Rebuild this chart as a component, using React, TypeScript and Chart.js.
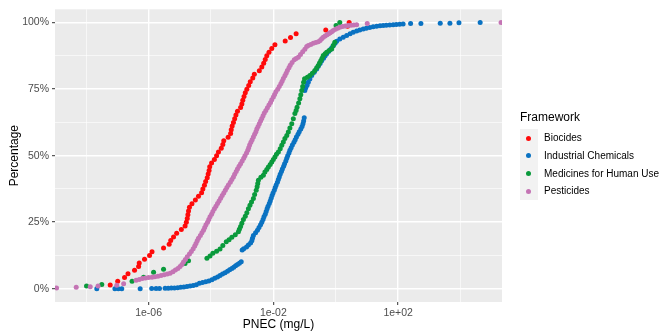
import React, { useEffect, useRef } from 'react';
import { Chart, registerables } from 'chart.js';

Chart.register(...registerables);

// ---- data (x = log10 PNEC in mg/L, y = cumulative percentage) ----
const seriesNames = ['Biocides', 'Industrial Chemicals', 'Medicines for Human Use', 'Pesticides'];
const seriesColors = ['#FF0A0A', '#0A72C2', '#0A9A3C', '#C474B4'];
const legendTitle = 'Framework';
const xTitle = 'PNEC (mg/L)';
const yTitle = 'Percentage';
const xTickValues = [-8, -6, -4, -2, 0, 2, 4];
const xLabelledTicks = [-6, -2, 2];
const yTickValues = [0, 12.5, 25, 37.5, 50, 62.5, 75, 87.5, 100];
const yLabelledTicks = [0, 25, 50, 75, 100];

const biocides: [number, number][] = [
  [-7.23, 1.4], [-6.99, 2.8], [-6.77, 4.2], [-6.66, 5.6], [-6.45, 6.9], [-6.32, 8.3], [-6.3, 9.7],
  [-6.13, 11.1], [-5.97, 12.5], [-5.89, 13.9], [-5.52, 15.3], [-5.34, 16.7], [-5.29, 18.1], [-5.2, 19.4],
  [-5.1, 20.8], [-4.95, 22.2], [-4.83, 23.6], [-4.79, 25.0], [-4.76, 26.4], [-4.74, 27.8], [-4.72, 29.2],
  [-4.69, 30.6], [-4.61, 31.9], [-4.5, 33.3], [-4.4, 34.7], [-4.3, 36.1], [-4.26, 37.5], [-4.21, 38.9],
  [-4.17, 40.3], [-4.12, 41.7], [-4.09, 43.1], [-4.06, 44.4], [-4.04, 45.8], [-3.98, 47.2], [-3.89, 48.6],
  [-3.82, 50.0], [-3.76, 51.4], [-3.67, 52.8], [-3.62, 54.2], [-3.59, 55.6], [-3.45, 56.9], [-3.37, 58.3],
  [-3.35, 59.7], [-3.32, 61.1], [-3.28, 62.5], [-3.24, 63.9], [-3.2, 65.3], [-3.15, 66.7], [-3.05, 68.1],
  [-3.01, 69.4], [-2.98, 70.8], [-2.94, 72.2], [-2.9, 73.6], [-2.85, 75.0], [-2.79, 76.4], [-2.74, 77.8],
  [-2.66, 79.2], [-2.61, 80.6], [-2.45, 81.9], [-2.37, 83.3], [-2.31, 84.7], [-2.26, 86.1], [-2.21, 87.5],
  [-2.14, 88.9], [-2.05, 90.3], [-1.95, 91.7], [-1.62, 93.1], [-1.45, 94.4], [-1.27, 95.8], [-0.32, 97.2],
  [0.38, 98.6], [0.43, 100],
];

const industrial: [number, number][] = [
  [-7.66, 0], [-7.08, 0], [-6.97, 0], [-6.86, 0], [-6.27, 0], [-5.9, 0.1], [-5.76, 0.1], [-5.65, 0.1],
  [-5.47, 0.2], [-5.37, 0.2], [-5.27, 0.3], [-5.17, 0.3], [-5.07, 0.4], [-4.97, 0.5], [-4.87, 0.6],
  [-4.77, 0.8], [-4.67, 1.0], [-4.57, 1.2], [-4.47, 1.5], [-4.37, 2.0], [-4.27, 2.3], [-4.17, 2.6],
  [-4.07, 2.9], [-3.97, 3.4], [-3.88, 3.9], [-3.79, 4.4], [-3.71, 5.0], [-3.63, 5.5], [-3.55, 6.0],
  [-3.47, 6.6], [-3.4, 7.1], [-3.33, 7.6], [-3.27, 8.1], [-3.21, 8.6], [-3.15, 9.1], [-3.09, 9.6],
  [-3.03, 10.1], [-3.0, 14.5], [-2.95, 15.0], [-2.86, 15.7], [-2.8, 16.4], [-2.73, 17.2], [-2.69, 18.0],
  [-2.67, 19.0], [-2.64, 20.0], [-2.57, 21.0], [-2.51, 22.0], [-2.46, 23.0], [-2.41, 24.0], [-2.37, 25.0],
  [-2.33, 26.0], [-2.3, 27.0], [-2.26, 28.0], [-2.23, 29.0], [-2.2, 30.0], [-2.17, 31.0], [-2.13, 32.0],
  [-2.1, 33.0], [-2.07, 34.0], [-2.04, 35.0], [-2.01, 36.0], [-1.97, 37.0], [-1.94, 38.0], [-1.91, 39.0],
  [-1.87, 40.0], [-1.84, 41.0], [-1.81, 42.0], [-1.78, 43.0], [-1.74, 44.0], [-1.71, 45.0], [-1.67, 46.0],
  [-1.64, 47.0], [-1.6, 48.0], [-1.57, 49.0], [-1.54, 50.0], [-1.5, 51.0], [-1.47, 52.0], [-1.43, 53.0],
  [-1.39, 54.0], [-1.34, 55.0], [-1.3, 56.0], [-1.26, 57.0], [-1.21, 58.0], [-1.17, 59.0], [-1.12, 60.0],
  [-1.08, 61.0], [-1.05, 62.0], [-1.03, 63.0], [-1.01, 64.2], [-0.99, 74.5], [-0.96, 75.5], [-0.92, 76.5],
  [-0.88, 77.6], [-0.83, 78.8], [-0.77, 80.1], [-0.69, 81.3], [-0.61, 82.6], [-0.56, 83.6], [-0.5, 84.6],
  [-0.45, 85.7], [-0.39, 86.6], [-0.34, 87.5], [-0.29, 88.3], [-0.23, 89.1], [-0.18, 89.8], [-0.13, 90.5],
  [-0.08, 91.3], [-0.02, 92.2], [0.03, 93.0], [0.13, 93.8], [0.24, 94.5], [0.35, 95.2], [0.46, 95.8],
  [0.56, 96.4], [0.67, 96.8], [0.77, 97.2], [0.88, 97.6], [0.98, 97.9], [1.09, 98.2], [1.2, 98.4],
  [1.31, 98.6], [1.42, 98.8], [1.52, 98.9], [1.62, 99.0], [1.73, 99.1], [1.84, 99.2], [1.94, 99.3],
  [2.05, 99.4], [2.16, 99.5], [2.4, 99.7], [2.73, 99.7], [3.35, 99.8], [3.66, 99.8], [3.95, 99.9],
  [4.63, 100],
];

const medicines: [number, number][] = [
  [-7.99, 1.0], [-7.5, 1.6], [-6.53, 2.8], [-6.16, 4.3], [-5.84, 6.2], [-5.52, 7.3], [-4.83, 9.5],
  [-4.72, 10.5], [-4.13, 11.4], [-4.03, 12.3], [-3.94, 13.3], [-3.82, 14.1], [-3.71, 14.9], [-3.62, 16.2],
  [-3.51, 17.6], [-3.42, 18.4], [-3.33, 19.3], [-3.22, 20.3], [-3.12, 21.4], [-3.09, 22.3], [-3.05, 23.4],
  [-3.01, 24.6], [-2.96, 26.0], [-2.9, 27.2], [-2.85, 28.5], [-2.8, 30.0], [-2.75, 31.4], [-2.7, 32.6],
  [-2.64, 33.9], [-2.6, 35.4], [-2.55, 37.0], [-2.52, 38.3], [-2.5, 39.5], [-2.48, 40.8], [-2.4, 41.9],
  [-2.32, 42.6], [-2.27, 43.9], [-2.21, 44.8], [-2.16, 45.7], [-2.1, 46.7], [-2.05, 47.6], [-2.0, 48.6],
  [-1.95, 49.5], [-1.9, 50.5], [-1.84, 51.4], [-1.78, 52.6], [-1.73, 53.9], [-1.68, 55.1], [-1.63, 56.4],
  [-1.57, 57.6], [-1.52, 58.9], [-1.47, 60.4], [-1.41, 62.0], [-1.36, 63.9], [-1.31, 65.8], [-1.27, 67.0],
  [-1.24, 68.2], [-1.19, 69.8], [-1.15, 71.4], [-1.12, 72.9], [-1.09, 74.5], [-1.06, 76.0], [-1.03, 77.6],
  [-1.0, 78.9], [-0.91, 79.5], [-0.83, 80.1], [-0.75, 81.0], [-0.67, 82.0], [-0.61, 83.0], [-0.56, 83.9],
  [-0.52, 84.8], [-0.48, 85.7], [-0.44, 86.6], [-0.4, 87.6], [-0.34, 88.3], [-0.29, 88.9], [-0.21, 89.5],
  [-0.13, 90.1], [-0.08, 91.4], [-0.03, 92.6], [0.01, 98.9], [0.13, 100],
];

const pesticides: [number, number][] = [
  [-8.95, 0.3], [-8.32, 0.5], [-7.87, 0.7], [-7.62, 1.0], [-7.02, 1.3], [-6.8, 1.9], [-6.4, 3.2],
  [-6.3, 3.5], [-6.2, 3.8], [-6.1, 4.0], [-6.0, 4.2], [-5.89, 4.3], [-5.8, 4.5], [-5.7, 4.7], [-5.6, 5.0],
  [-5.5, 5.2], [-5.4, 5.5], [-5.31, 5.8], [-5.22, 6.4], [-5.14, 7.0], [-5.06, 7.6], [-4.99, 8.3],
  [-4.93, 9.1], [-4.88, 10.0], [-4.82, 11], [-4.76, 12], [-4.69, 13], [-4.63, 14], [-4.57, 15],
  [-4.52, 16], [-4.48, 17], [-4.44, 18], [-4.4, 19], [-4.34, 20], [-4.29, 21], [-4.24, 22], [-4.2, 23],
  [-4.16, 24], [-4.11, 25], [-4.07, 26], [-4.03, 27], [-3.98, 28], [-3.94, 29], [-3.89, 30], [-3.84, 31],
  [-3.79, 32], [-3.74, 33], [-3.69, 34], [-3.64, 35], [-3.59, 36], [-3.54, 37], [-3.49, 38], [-3.44, 39],
  [-3.38, 40], [-3.33, 41], [-3.28, 42], [-3.24, 43], [-3.19, 44], [-3.15, 45], [-3.1, 46], [-3.05, 47],
  [-3.0, 48], [-2.95, 49], [-2.91, 50], [-2.86, 51], [-2.82, 52], [-2.79, 53], [-2.76, 54], [-2.72, 55],
  [-2.68, 56], [-2.64, 57], [-2.6, 58], [-2.56, 59], [-2.53, 60], [-2.49, 61], [-2.45, 62], [-2.41, 63],
  [-2.37, 64], [-2.33, 65], [-2.29, 66], [-2.24, 67], [-2.19, 68], [-2.14, 69], [-2.09, 70], [-2.05, 71],
  [-2.0, 72], [-1.96, 73], [-1.92, 74], [-1.86, 75], [-1.81, 76], [-1.76, 77], [-1.72, 78], [-1.68, 79],
  [-1.63, 80], [-1.59, 81], [-1.55, 82], [-1.5, 83], [-1.46, 84], [-1.4, 85], [-1.33, 86], [-1.27, 86.5],
  [-1.2, 87], [-1.13, 88], [-1.06, 89], [-0.99, 90], [-0.93, 91], [-0.88, 91.4], [-0.8, 91.8],
  [-0.72, 92.2], [-0.64, 92.5], [-0.56, 92.8], [-0.5, 93.3], [-0.45, 93.9], [-0.4, 94.5], [-0.34, 95.0],
  [-0.28, 95.4], [-0.23, 95.8], [-0.18, 96.2], [-0.13, 96.6], [-0.08, 97.0], [-0.01, 97.5], [0.06, 97.9],
  [0.13, 98.3], [0.22, 98.5], [0.31, 98.7], [0.4, 98.9], [0.49, 99.0], [0.58, 99.1], [0.67, 99.2],
  [1.01, 99.7], [5.3, 100],
];

const seriesData = [biocides, industrial, medicines, pesticides];

// ---- layout / style ----
const W = 662;
const H = 331;
const FONT = '"Liberation Sans", Arial, Helvetica, sans-serif';
const POINT_R = 2.5;

function fmtExp(v: number): string {
  const a = Math.abs(v);
  return '1e' + (v < 0 ? '-' : '+') + (a < 10 ? '0' + a : String(a));
}

const panelBackground = {
  id: 'panelBackground',
  beforeDraw(chart: any) {
    const { ctx, chartArea } = chart;
    if (!chartArea) return;
    ctx.save();
    ctx.fillStyle = '#EBEBEB';
    ctx.fillRect(chartArea.left, chartArea.top, chartArea.right - chartArea.left, chartArea.bottom - chartArea.top);
    ctx.restore();
  },
};

export default function App() {
  const canvasRef = useRef<HTMLCanvasElement | null>(null);

  useEffect(() => {
    if (!canvasRef.current) return;
    const chart = new Chart(canvasRef.current, {
      type: 'scatter',
      data: {
        datasets: seriesData.map((pts, i) => ({
          label: seriesNames[i],
          data: pts.map(([x, y]) => ({ x, y })),
          backgroundColor: seriesColors[i],
          borderWidth: 0,
          pointRadius: POINT_R,
          pointHoverRadius: POINT_R,
          order: seriesData.length - 1 - i,
          clip: 0,
        })),
      },
      options: {
        animation: false,
        responsive: false,
        devicePixelRatio: 1,
        events: [],
        layout: { autoPadding: false, padding: { top: 9, right: 160, bottom: 0, left: 0 } },
        plugins: { legend: { display: false }, tooltip: { enabled: false } },
        scales: {
          x: {
            type: 'linear',
            min: -9,
            max: 5.33,
            afterBuildTicks: (scale: any) => {
              scale.ticks = xTickValues.map((v) => ({ value: v }));
            },
            afterFit: (scale: any) => {
              scale.height = 29;
            },
            border: { display: false },
            grid: {
              color: '#FFFFFF',
              lineWidth: (c: any) => (xLabelledTicks.includes(c.tick?.value) ? 1.4 : 0.6),
              drawTicks: true,
              tickLength: 3,
              tickWidth: 1,
              tickColor: (c: any) => (xLabelledTicks.includes(c.tick?.value) ? '#333333' : 'rgba(0,0,0,0)'),
            },
            ticks: {
              autoSkip: false,
              maxRotation: 0,
              padding: 2,
              color: '#4D4D4D',
              font: { family: FONT, size: 10.5 },
              callback: (v: any) => (xLabelledTicks.includes(v) ? fmtExp(v) : ''),
            },
            title: {
              display: true,
              text: xTitle,
              color: '#000000',
              font: { family: FONT, size: 12, lineHeight: 1 },
              padding: { top: 0, bottom: 0 },
            },
          },
          y: {
            type: 'linear',
            min: -5,
            max: 105,
            afterBuildTicks: (scale: any) => {
              scale.ticks = yTickValues.map((v) => ({ value: v }));
            },
            afterFit: (scale: any) => {
              scale.width = 55;
            },
            border: { display: false },
            grid: {
              color: '#FFFFFF',
              lineWidth: (c: any) => (yLabelledTicks.includes(c.tick?.value) ? 1.4 : 0.6),
              drawTicks: true,
              tickLength: 3,
              tickWidth: 1,
              tickColor: (c: any) => (yLabelledTicks.includes(c.tick?.value) ? '#333333' : 'rgba(0,0,0,0)'),
            },
            ticks: {
              autoSkip: false,
              padding: 3,
              color: '#4D4D4D',
              font: { family: FONT, size: 10.5 },
              callback: (v: any) => (yLabelledTicks.includes(v) ? v + '%' : ''),
            },
            title: {
              display: true,
              text: yTitle,
              color: '#000000',
              font: { family: FONT, size: 12, lineHeight: 1 },
              padding: { top: 9, bottom: 0 },
            },
          },
        },
      },
      plugins: [panelBackground],
    } as any);
    return () => chart.destroy();
  }, []);

  const keySize = 17.7;
  const keyTop = 129.3;

  return (
    <div style={{ position: 'fixed', left: 0, top: 0, width: W, height: H, background: '#FFFFFF', fontFamily: FONT }}>
      <canvas ref={canvasRef} width={W} height={H} style={{ position: 'absolute', left: 0, top: 0, width: W, height: H }} />
      <div
        style={{
          position: 'absolute',
          left: 520,
          top: 110,
          fontSize: 12,
          lineHeight: '14px',
          color: '#000000',
          whiteSpace: 'nowrap',
        }}
      >
        {legendTitle}
      </div>
      {seriesNames.map((name, i) => (
        <div key={name}>
          <div
            style={{
              position: 'absolute',
              left: 520,
              top: keyTop + i * keySize,
              width: keySize,
              height: keySize,
              background: '#F2F2F2',
            }}
          />
          <div
            style={{
              position: 'absolute',
              left: 520 + keySize / 2 - POINT_R,
              top: keyTop + i * keySize + keySize / 2 - POINT_R,
              width: POINT_R * 2,
              height: POINT_R * 2,
              borderRadius: '50%',
              background: seriesColors[i],
            }}
          />
          <div
            style={{
              position: 'absolute',
              left: 544,
              top: keyTop + i * keySize + keySize / 2 - 6,
              fontSize: 10,
              lineHeight: '12px',
              color: '#000000',
              whiteSpace: 'nowrap',
            }}
          >
            {name}
          </div>
        </div>
      ))}
    </div>
  );
}
